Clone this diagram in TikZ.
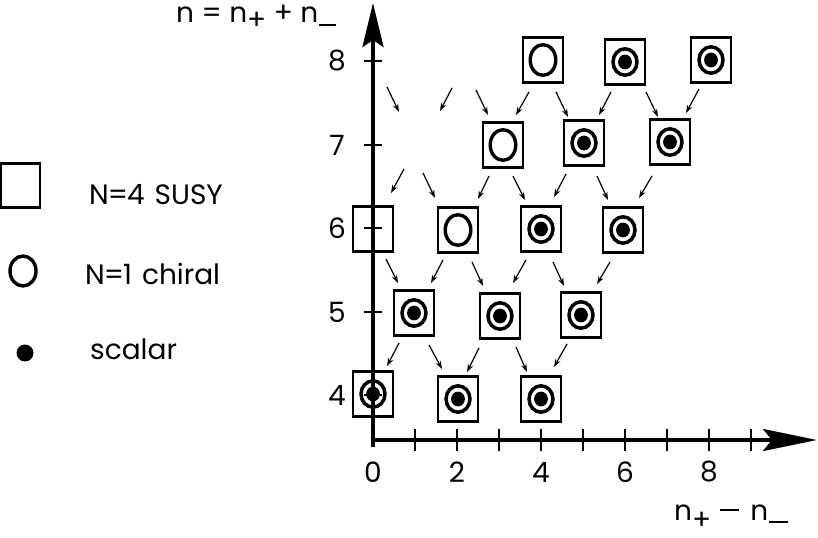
\documentclass[tikz,border=0pt]{standalone}
\usepackage{fontspec}
\setmainfont{Poppins}
\usetikzlibrary{arrows.meta}
\newcommand\lowr[2]{\smash{\raisebox{-#1bp}{#2}}}
\newcommand\dashbar[2]{\smash{\rule[#1bp]{#2bp}{2bp}}}
\begin{document}
\begin{tikzpicture}[x=1bp,y=-1bp,
  boxst/.style={draw, line width=2.5bp, minimum width=40bp, minimum height=45bp, inner sep=0pt},
  ringst/.style={line width=3.4bp},
  rrst/.style={line width=3.5bp},
  lab/.style={font=\fontsize{28bp}{34bp}\selectfont, inner sep=0pt},
  small/.style={line width=1.2bp, -{Stealth[length=8bp,width=5.5bp]}},
  axis/.style={line width=3.8bp},
  tick/.style={line width=2.5bp}]
\useasboundingbox (0,0) rectangle (818,538);

% ---- boxes
\newcommand\EBox[3]{\node[boxst] (#1) at (#2,#3) {};}
\newcommand\OBox[3]{\node[boxst] (#1) at (#2,#3) {};
  \draw[ringst] (#1.center) ellipse [x radius=12.8bp, y radius=15.3bp];}
\newcommand\RBox[3]{\node[boxst] (#1) at (#2,#3) {};
  \draw[rrst] (#1.center) ellipse [x radius=12bp, y radius=13.2bp];
  \fill (#1.center) ellipse [x radius=6.9bp, y radius=7.4bp];}

\OBox{a8}{543}{60}
\RBox{b8}{625}{62}
\RBox{c8}{711}{60}
\OBox{a7}{503}{145}
\RBox{b7}{584}{143}
\RBox{c7}{670}{142}
\EBox{a6}{373}{229}
\OBox{b6}{458}{230}
\RBox{c6}{541}{229}
\RBox{d6}{623}{230}
\RBox{a5}{414}{313}
\RBox{b5}{500}{316}
\RBox{c5}{581}{315}
\RBox{a4}{373}{394}
\RBox{b4}{458}{399}
\RBox{c4}{541}{399}

% ---- small arrows
\foreach \xa/\ya/\xb/\yb in {
  387/87/399/112, 452/88/440/111, 476/90/488/115, 529/92/516/115,
  556/92/568/117, 611/92/599/115, 646/92/658/117, 699/89/686/113,
  404/169/391/193, 423/173/435/198, 489/176/478/199, 513/176/525/200,
  566/174/554/197, 597/176/608/200, 652/176/639/198,
  386/259/398/283, 443/260/431/283, 472/262/483/286, 526/260/513/283,
  553/262/564/286, 610/262/597/284,
  399/343/387/366, 429/345/442/369, 479/348/467/372, 516/347/527/372,
  567/344/554/367}
  \draw[small] (\xa,\ya) -- (\xb,\yb);

% ---- axes
\coordinate (O) at (373,440);
\coordinate (ybot) at (373,447);
\coordinate (ytop) at (373,3);
\coordinate (xleft) at (371,440);
\coordinate (xright) at (817,440);
\draw[axis, -{Stealth[length=44bp,width=21bp,inset=7bp]}] (ybot) -- (ytop);
\draw[axis, -{Stealth[length=54bp,width=22bp,inset=9bp]}] (xleft) -- (xright);
\foreach \k in {1,...,9}
  \draw[tick] (373+42*\k,429) -- (373+42*\k,451);
\foreach \n/\yy in {8/61,7/145,6/228,5/312,4/395}{
  \draw[tick] (364,\yy) -- (382,\yy);
  \node[lab] (yl\n) at (337,\yy) {\n};}
\foreach \k in {0,2,4,6,8}
  \node[lab] (xl\k) at (373+42*\k,472) {\k};

% ---- axis titles
\node[lab, anchor=base west] (ttl) at (176,23)
  {n = n\lowr{7}{+} + n\kern1bp\dashbar{-3}{17}};
\node[lab, anchor=base west] (btl) at (674,520)
  {n\lowr{9}{+}\hspace{9bp}\dashbar{9}{19}\hspace{11bp}n\kern1bp\dashbar{-3}{19}};

% ---- legend
\node[boxst, minimum width=39bp, minimum height=44bp] (lsq) at (20.5,185.5) {};
\node[inner sep=0pt] (lo) at (23,271) {};
\draw[ringst] (lo.center) ellipse [x radius=13bp, y radius=15bp];
\node[inner sep=0pt] (ld) at (25,353) {};
\fill (ld.center) circle [radius=8.5bp];
\node[lab, anchor=base west] (t1) at (89,205) {N\kern-1bp=\kern-1bp4\hspace{10bp}SUSY};
\node[lab, anchor=base west] (t2) at (85,285) {N\kern-1bp=\kern-1bp1\hspace{10bp}chiral};
\node[lab, anchor=base west] (t3) at (90,359) {scalar};
\end{tikzpicture}
\end{document}
